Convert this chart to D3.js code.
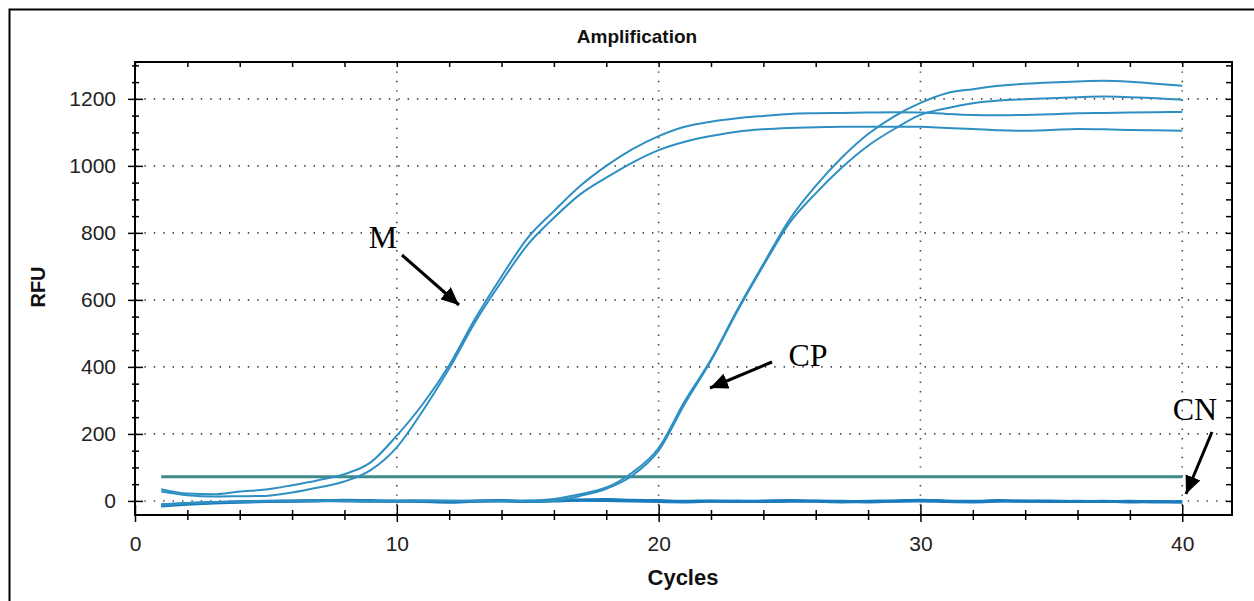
<!DOCTYPE html>
<html>
<head>
<meta charset="utf-8">
<script src="https://cdn.jsdelivr.net/npm/d3@7/dist/d3.min.js"></script>
<style>
  html, body { margin: 0; padding: 0; background: #fff; }
  svg { display: block; }
</style>
</head>
<body>
<svg id="chart" width="1254" height="601"></svg>
<script>
// ---------- DATA ----------
const cycles = [1,2,3,4,5,6,7,8,9,10,11,12,13,14,15,16,17,18,19,20,21,22,23,24,25,26,27,28,29,30,31,32,33,34,35,36,37,38,39,40];

const seriesM1 = [35,22,20,28,34,47,62,80,115,195,290,405,545,670,785,865,940,1000,1050,1089,1117,1132,1142,1149,1155,1157,1158,1159,1160,1159,1155,1152,1151,1152,1154,1157,1158,1159,1160,1161];
const seriesM2 = [28,17,13,14,15,25,40,58,92,160,270,395,535,655,765,845,915,965,1010,1047,1072,1089,1102,1109,1113,1115,1117,1117,1117,1117,1113,1110,1106,1105,1107,1110,1109,1107,1106,1105];
const seriesCP1 = [-10,-6,-3,-2,-1,0,1,0,-1,0,1,0,-1,0,1,6,20,40,85,158,298,422,570,707,840,940,1025,1095,1148,1188,1217,1229,1239,1245,1249,1252,1254,1251,1245,1239];
const seriesCP2 = [-14,-8,-4,-2,-1,0,0,1,0,-1,0,1,0,-1,-2,0,15,36,76,150,290,418,565,702,830,918,995,1060,1110,1152,1172,1187,1195,1199,1202,1205,1207,1205,1202,1197];
const seriesCN1 = [-15,-10,-6,-3,-2,-1,0,2,1,-1,0,-2,0,1,-1,2,3,4,2,1,-1,0,-2,0,1,-1,-3,-1,0,2,0,-1,1,-1,0,-2,-1,-3,-2,-4];
const seriesCN2 = [-12,-8,-5,-3,-1,0,1,0,-1,0,-2,-4,-1,0,-2,0,2,1,0,-2,-3,-1,0,-2,-1,0,-1,-3,-1,0,-2,-3,-1,0,-2,-1,-2,-1,-3,-2];
const thresholdValue = 72;

const xTicks = [0,10,20,30,40];
const xMinorTicks = [2,4,6,8,12,14,16,18,22,24,26,28,32,34,36,38];
const yTicks = [0,200,400,600,800,1000,1200];
const yMinorTicks = [50,100,150,250,300,350,450,500,550,650,700,750,850,900,950,1050,1100,1150,1250,1300];

const titleText = "Amplification";
const xLabel = "Cycles";
const yLabel = "RFU";

const annotations = [
  { text: "M",  tx: 383,  ty: 248, x1: 402,  y1: 255, x2: 459,  y2: 305 },
  { text: "CP", tx: 808,  ty: 366, x1: 772,  y1: 362, x2: 710,  y2: 388 },
  { text: "CN", tx: 1195, ty: 420, x1: 1212, y1: 432, x2: 1186, y2: 494 }
];

// ---------- LAYOUT ----------
const svg = d3.select("#chart");
const L = 135, R = 1232, T = 62, B = 515;

const x = d3.scaleLinear().domain([0, 41.9]).range([L, R]);
const y = d3.scaleLinear().domain([-42, 1310]).range([B, T]);

// outer frame (left + top)
svg.append("path")
  .attr("d", `M9.5,601 L9.5,9.5 L1254,9.5`)
  .attr("fill", "none").attr("stroke", "#000").attr("stroke-width", 2);

// grid
const grid = svg.append("g").attr("stroke", "#444").attr("stroke-width", 1.6)
  .attr("stroke-dasharray", "1.4,8").attr("stroke-linecap", "butt");
yTicks.forEach(v => {
  grid.append("line").attr("x1", L).attr("x2", R).attr("y1", y(v)).attr("y2", y(v));
});
xTicks.filter(v => v > 0).forEach(v => {
  grid.append("line").attr("x1", x(v)).attr("x2", x(v)).attr("y1", T).attr("y2", B);
});

// curves
const line = d3.line()
  .x((d, i) => x(cycles[i]))
  .y(d => y(d))
  .curve(d3.curveMonotoneX);

const curveColor = "#2e8fc2";
const cnColor = "#1a7cbc";

[seriesCN1, seriesCN2].forEach(s => {
  svg.append("path").attr("d", line(s)).attr("fill", "none")
    .attr("stroke", cnColor).attr("stroke-width", 3);
});

// threshold
svg.append("line")
  .attr("x1", x(cycles[0])).attr("x2", x(cycles[cycles.length - 1]))
  .attr("y1", y(thresholdValue)).attr("y2", y(thresholdValue))
  .attr("stroke", "#3f8b8a").attr("stroke-width", 3);

[seriesM1, seriesM2, seriesCP1, seriesCP2].forEach(s => {
  svg.append("path").attr("d", line(s)).attr("fill", "none")
    .attr("stroke", curveColor).attr("stroke-width", 2);
});

// axes
function noDomain(g) { g.select(".domain").remove(); g.selectAll("line").attr("stroke", "#000").attr("stroke-width", 1.5); }
const tickFont = "Liberation Sans, Arial, sans-serif";

// left axis: labels + outward major ticks
svg.append("g").attr("transform", `translate(${L},0)`)
  .call(d3.axisLeft(y).tickValues(yTicks).tickSize(7).tickPadding(12).tickFormat(d3.format("d")))
  .call(noDomain)
  .call(g => g.selectAll("text").attr("font-family", tickFont).attr("font-size", 21).attr("fill", "#222"));
svg.append("g").attr("transform", `translate(${L},0)`)
  .call(d3.axisRight(y).tickValues(yTicks).tickSize(8).tickFormat(""))
  .call(noDomain);
svg.append("g").attr("transform", `translate(${L},0)`)
  .call(d3.axisLeft(y).tickValues(yMinorTicks).tickSize(3).tickFormat(""))
  .call(noDomain);
svg.append("g").attr("transform", `translate(${L},0)`)
  .call(d3.axisRight(y).tickValues(yMinorTicks).tickSize(4).tickFormat(""))
  .call(noDomain);
// right axis inward
svg.append("g").attr("transform", `translate(${R},0)`)
  .call(d3.axisLeft(y).tickValues(yTicks.concat(yMinorTicks)).tickSize(6).tickFormat(""))
  .call(noDomain);

// bottom axis
svg.append("g").attr("transform", `translate(0,${B})`)
  .call(d3.axisBottom(x).tickValues(xTicks).tickSize(7).tickPadding(14).tickFormat(d3.format("d")))
  .call(noDomain)
  .call(g => g.selectAll("text").attr("font-family", tickFont).attr("font-size", 21).attr("fill", "#222"));
svg.append("g").attr("transform", `translate(0,${B})`)
  .call(d3.axisTop(x).tickValues(xTicks).tickSize(10).tickFormat(""))
  .call(noDomain);
svg.append("g").attr("transform", `translate(0,${B})`)
  .call(d3.axisBottom(x).tickValues(xMinorTicks).tickSize(5).tickFormat(""))
  .call(noDomain);
svg.append("g").attr("transform", `translate(0,${B})`)
  .call(d3.axisTop(x).tickValues(xMinorTicks).tickSize(5).tickFormat(""))
  .call(noDomain);
// top axis inward
svg.append("g").attr("transform", `translate(0,${T})`)
  .call(d3.axisBottom(x).tickValues(xTicks.concat(xMinorTicks)).tickSize(5).tickFormat(""))
  .call(noDomain);

// plot frame
svg.append("rect").attr("x", L).attr("y", T).attr("width", R - L).attr("height", B - T)
  .attr("fill", "none").attr("stroke", "#000").attr("stroke-width", 2);

// titles
svg.append("text").attr("x", 637).attr("y", 43).attr("text-anchor", "middle")
  .attr("font-family", tickFont).attr("font-weight", "bold")
  .attr("font-size", 19).attr("fill", "#111").text(titleText);
svg.append("text").attr("x", 683).attr("y", 585).attr("text-anchor", "middle")
  .attr("font-family", tickFont).attr("font-weight", "bold")
  .attr("font-size", 22).attr("fill", "#111").text(xLabel);
svg.append("text").attr("transform", "translate(45,287) rotate(-90)").attr("text-anchor", "middle")
  .attr("font-family", tickFont).attr("font-weight", "bold")
  .attr("font-size", 20).attr("fill", "#111").text(yLabel);

// annotations
svg.append("defs").append("marker")
  .attr("id", "ah").attr("markerUnits", "userSpaceOnUse")
  .attr("viewBox", "0 0 18 16").attr("refX", 18).attr("refY", 8)
  .attr("markerWidth", 18).attr("markerHeight", 16).attr("orient", "auto")
  .append("path").attr("d", "M0,0 L18,8 L0,16 Z").attr("fill", "#000");

annotations.forEach(a => {
  svg.append("line").attr("x1", a.x1).attr("y1", a.y1).attr("x2", a.x2).attr("y2", a.y2)
    .attr("stroke", "#000").attr("stroke-width", 3).attr("marker-end", "url(#ah)");
  svg.append("text").attr("x", a.tx).attr("y", a.ty).attr("text-anchor", "middle")
    .attr("font-family", "Liberation Serif, Times New Roman, serif")
    .attr("font-size", 32).attr("fill", "#000").text(a.text);
});
</script>
</body>
</html>
